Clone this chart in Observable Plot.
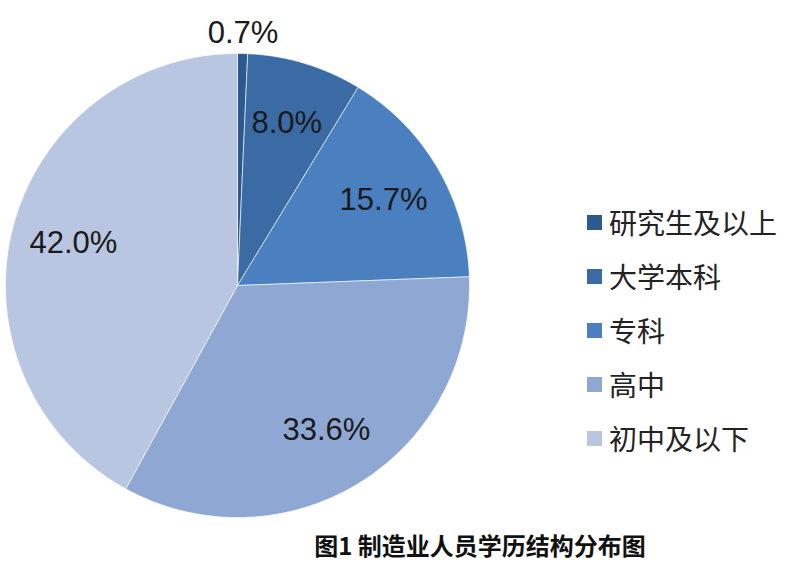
<!DOCTYPE html>
<html><head><meta charset="utf-8">
<script src="https://cdn.jsdelivr.net/npm/d3@7"></script>
<script src="https://cdn.jsdelivr.net/npm/@observablehq/plot@0.6"></script>
<style>
body{margin:0;background:#fff;}
#wrap{position:relative;width:791px;height:574px;overflow:hidden;}
#legend{position:absolute;left:587px;top:195px;font-family:"Noto Sans CJK SC",sans-serif;font-size:28px;color:#222;}
.row{display:flex;align-items:center;height:54px;}
.sw{width:15px;height:15px;margin-right:7px;}
#title{position:absolute;top:527px;left:480px;transform:translateX(-50%);white-space:nowrap;font-family:"Noto Sans CJK SC",sans-serif;font-weight:bold;font-size:24px;color:#111;}
</style>
</head><body><div id="wrap"><div id="chart"></div><div id="legend"></div><div id="title"></div></div>
<script>
const categories = ["研究生及以上","大学本科","专科","高中","初中及以下"];
const values = [0.7, 8.0, 15.7, 33.6, 42.0];
const labels = ["0.7%","8.0%","15.7%","33.6%","42.0%"];
const colors = ["#2c5a8e","#3b6ba5","#4a7fc0","#8fa8d3","#b9c6e2"];
const title = "图1 制造业人员学历结构分布图";

const total = d3.sum(values);
let acc = 0;
const slices = values.map((v, i) => {
  const a0 = acc / total * 2 * Math.PI; acc += v;
  const a1 = acc / total * 2 * Math.PI;
  return {i, cat: categories[i], v, label: labels[i], a0, a1, mid: (a0 + a1) / 2};
});
const pts = slices.flatMap(s => {
  const n = Math.max(2, Math.ceil((s.a1 - s.a0) / (Math.PI / 360)));
  const arr = [{cat: s.cat, x: 0, y: 0}];
  for (let k = 0; k <= n; k++) {
    const a = s.a0 + (s.a1 - s.a0) * k / n;
    arr.push({cat: s.cat, x: Math.sin(a), y: Math.cos(a)});
  }
  arr.push({cat: s.cat, x: 0, y: 0});
  return arr;
});
const lr = s => (s.v / total < 0.02 ? 1.09 : 0.73);

const chart = Plot.plot({
  width: 791, height: 527,
  marginTop: 0, marginRight: 0, marginBottom: 0, marginLeft: 0,
  x: {domain: [-1, 1], range: [5, 469], axis: null},
  y: {domain: [-1, 1], range: [517, 53], axis: null},
  color: {domain: categories, range: colors},
  marks: [
    Plot.line(pts, {x: "x", y: "y", z: "cat", fill: "cat", stroke: "#ffffff", strokeOpacity: 0.6, strokeWidth: 1}),
    Plot.text(slices, {x: s => lr(s) * Math.sin(s.mid), y: s => lr(s) * Math.cos(s.mid), text: "label",
      fontSize: 31, fontFamily: "Liberation Sans, sans-serif", fill: "#1a1a1a"})
  ]
});
document.getElementById("chart").appendChild(chart);

const lg = document.getElementById("legend");
categories.forEach((c, i) => {
  const row = document.createElement("div"); row.className = "row";
  const sw = document.createElement("div"); sw.className = "sw"; sw.style.background = colors[i];
  const t = document.createElement("span"); t.textContent = c;
  row.appendChild(sw); row.appendChild(t); lg.appendChild(row);
});
document.getElementById("title").textContent = title;
</script></body></html>
